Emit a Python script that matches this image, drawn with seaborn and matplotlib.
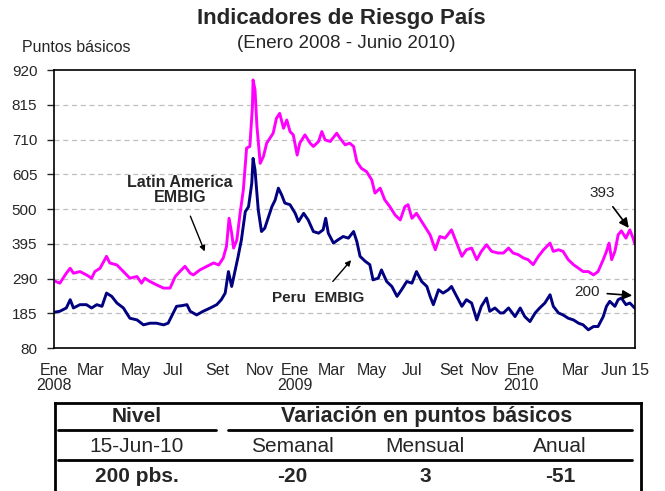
"""
Indicadores de Riesgo País (Enero 2008 - Junio 2010)
EMBIG Latin America vs Peru, con tabla resumen abajo
"""

import pandas as pd
import matplotlib.pyplot as plt
import seaborn as sns

sns.set_style("white")
plt.rcParams['font.family'] = ['Liberation Sans', 'DejaVu Sans']

# Dias desde 01-Ene-2008 y nivel (puntos basicos)
dias_latam = [0, 9, 19, 25, 30, 40, 50, 58, 63, 71, 81, 86, 97, 107, 117, 128, 135, 140,
              148, 158, 169, 179, 187, 194, 202, 210, 215, 225, 236, 246, 254, 261, 266,
              270, 274, 277, 282, 287, 292, 297, 302, 306, 307, 310, 313, 318, 323, 328,
              333, 338, 343, 348, 354, 359, 364, 369, 375, 379, 387, 395, 400, 408, 413,
              418, 426, 436, 441, 449, 456, 462, 467, 474, 482, 490, 495, 503, 510, 518,
              526, 534, 541, 546, 552, 559, 572, 580, 588, 595, 603, 613, 621, 629, 636,
              644, 652, 659, 667, 675, 685, 693, 701, 708, 716, 724, 731, 739, 747, 755,
              765, 770, 778, 785, 793, 801, 809, 816, 824, 832, 839, 847, 852, 856, 860,
              865, 870, 875, 882, 888, 893, 896]
latam = [283, 276, 306, 321, 306, 311, 301, 291, 311, 321, 357, 337, 331, 311, 291, 296, 276, 291,
         281, 271, 261, 261, 296, 311, 327, 306, 301, 316, 327, 337, 331, 352, 387,
         472, 427, 382, 407, 487, 558, 684, 689, 809, 890, 860, 749, 638, 659, 699,
         714, 729, 774, 789, 744, 769, 734, 724, 663, 699, 724, 699, 689, 704, 734,
         709, 704, 729, 714, 694, 699, 689, 643, 623, 613, 588, 548, 563, 528, 507,
         482, 467, 507, 513, 472, 487, 447, 422, 377, 417, 412, 437, 397, 357, 377,
         382, 347, 372, 392, 372, 367, 367, 382, 367, 362, 352, 347, 332, 357, 377,
         397, 372, 377, 372, 347, 332, 321, 311, 311, 301, 311, 347, 372, 397, 347,
         372, 422, 434, 412, 437, 412, 393]

dias_peru = [0, 9, 19, 25, 30, 40, 50, 58, 66, 74, 81, 89, 97, 107, 117, 128, 138, 148,
             158, 169, 176, 184, 189, 197, 205, 210, 220, 230, 241, 251, 258, 264, 269,
             274, 279, 284, 289, 295, 300, 305, 307, 310, 315, 320, 325, 331, 336, 341,
             346, 351, 356, 364, 372, 377, 385, 392, 400, 408, 415, 419, 423, 431, 438,
             446, 454, 462, 467, 472, 480, 487, 492, 500, 505, 513, 521, 529, 536, 544,
             552, 559, 567, 575, 580, 585, 593, 600, 608, 613, 621, 629, 636, 644, 652,
             659, 667, 672, 680, 688, 693, 701, 711, 719, 726, 734, 742, 749, 757, 765,
             770, 778, 785, 793, 801, 809, 816, 824, 832, 839, 847, 852, 857, 865, 870,
             875, 882, 888, 893, 896]
peru = [188, 191, 201, 226, 201, 211, 211, 201, 211, 206, 246, 236, 216, 201, 170, 165, 150, 155,
        155, 150, 155, 186, 206, 208, 211, 191, 180, 191, 201, 211, 226, 246, 311,
        266, 311, 357, 407, 492, 507, 578, 653, 618, 497, 432, 442, 477, 507, 527,
        563, 543, 518, 513, 487, 462, 487, 467, 432, 427, 437, 472, 427, 397, 407,
        417, 412, 432, 402, 357, 342, 332, 286, 291, 316, 281, 266, 236, 256, 281,
        276, 311, 281, 266, 236, 211, 256, 246, 256, 266, 236, 206, 226, 216, 165,
        206, 231, 191, 201, 186, 186, 201, 175, 201, 175, 160, 186, 201, 216, 241,
        206, 186, 180, 170, 165, 155, 150, 135, 145, 145, 175, 206, 221, 206, 226,
        231, 211, 216, 206, 200]

# Eje x: posicion (dias) y etiquetas
tick_dias = [0, 57, 126, 184, 252, 318, 372, 428, 490, 552, 612, 664, 720, 805, 880]
tick_labels = ['Ene\n2008', 'Mar', 'May', 'Jul', 'Set', 'Nov', 'Ene\n2009', 'Mar', 'May',
               'Jul', 'Set', 'Nov', 'Ene\n2010', 'Mar', 'Jun 15']
y_ticks = [80, 185, 290, 395, 500, 605, 710, 815, 920]

# Tabla resumen
nivel_fecha = '15-Jun-10'
nivel_valor = '200 pbs.'
variacion_cols = ['Semanal', 'Mensual', 'Anual']
variacion_vals = ['-20', '3', '-51']

df_latam = pd.DataFrame({'dia': dias_latam, 'pb': latam})
df_peru = pd.DataFrame({'dia': dias_peru, 'pb': peru})

fig = plt.figure(figsize=(6.65, 4.91), dpi=100)
ax = fig.add_axes([0.0812, 0.2912, 0.8737, 0.5662])

sns.lineplot(data=df_latam, x='dia', y='pb', ax=ax, color='#FF00FF', linewidth=2.1)
sns.lineplot(data=df_peru, x='dia', y='pb', ax=ax, color='#000080', linewidth=2.1)

ax.set_xlim(0, 896)
ax.set_ylim(80, 920)
ax.set_yticks(y_ticks)
ax.set_yticklabels([str(v) for v in y_ticks], fontsize=11)
ax.set_xticks(tick_dias)
ax.set_xticklabels(tick_labels, fontsize=11.5, linespacing=1.0)
ax.tick_params(axis='x', length=0, pad=11)
ax.tick_params(axis='y', length=5, width=1, direction='out', left=True, pad=7)
ax.set_xlabel('')
ax.set_ylabel('')
for v in y_ticks[1:-1]:
    ax.axhline(v, color='#BFBFBF', linestyle=(0, (4, 3)), linewidth=0.9, zorder=0)
for s in ax.spines.values():
    s.set_color('black')
    s.set_linewidth(1.2)

# Anotaciones
ax.annotate('Latin America\nEMBIG', xy=(234, 364), xytext=(194, 557), ha='center', va='center',
            fontsize=11.5, fontweight='bold', linespacing=1.0,
            arrowprops=dict(arrowstyle='-|>', color='black', lw=1, mutation_scale=8, shrinkA=6))
ax.annotate('Peru  EMBIG', xy=(461, 352), xytext=(408, 231), ha='center', va='center',
            fontsize=11, fontweight='bold',
            arrowprops=dict(arrowstyle='-|>', color='black', lw=1, mutation_scale=8, shrinkA=6))
ax.annotate('393', xy=(889, 436), xytext=(846, 548), ha='center', va='center', fontsize=11,
            arrowprops=dict(arrowstyle='-|>', color='black', lw=1.2, mutation_scale=14, shrinkA=3))
ax.annotate('200', xy=(896, 238), xytext=(822, 249), ha='center', va='center', fontsize=11,
            arrowprops=dict(arrowstyle='-|>', color='black', lw=1.2, mutation_scale=14, shrinkA=3))

fig.text(0.513, 0.963, 'Indicadores de Riesgo País', ha='center', va='center',
         fontsize=16, fontweight='bold')
fig.text(0.521, 0.912, '(Enero 2008 - Junio 2010)', ha='center', va='center', fontsize=13.5)
fig.text(0.033, 0.904, 'Puntos básicos', ha='left', va='center', fontsize=11.5)

# Tabla (el borde inferior queda fuera de la figura)
axt = fig.add_axes([55 / 665, -0.05, (641 - 55) / 665, 1 - 403 / 491 + 0.05])
axt.set_xlim(55, 641)
axt.set_ylim(491 + 0.05 * 491, 403)
axt.set_xticks([])
axt.set_yticks([])
for s in axt.spines.values():
    s.set_color('black')
    s.set_linewidth(2)

axt.plot([58, 216], [430, 430], color='black', lw=2)
axt.plot([228, 632], [430, 430], color='black', lw=2)
axt.plot([58, 632], [460, 460], color='black', lw=2)

axt.text(137, 416, 'Nivel', ha='center', va='center', fontsize=15, fontweight='bold')
axt.text(427, 416, 'Variación en puntos básicos', ha='center', va='center', fontsize=15.5,
         fontweight='bold')
axt.text(137, 446, nivel_fecha, ha='center', va='center', fontsize=15)
axt.text(137, 476, nivel_valor, ha='center', va='center', fontsize=15, fontweight='bold')
for xc, col, val in zip([292, 425, 560], variacion_cols, variacion_vals):
    axt.text(xc, 446, col, ha='center', va='center', fontsize=15)
    axt.text(xc, 476, val, ha='center', va='center', fontsize=15, fontweight='bold')

plt.savefig('out.png', dpi=100)
plt.close()
